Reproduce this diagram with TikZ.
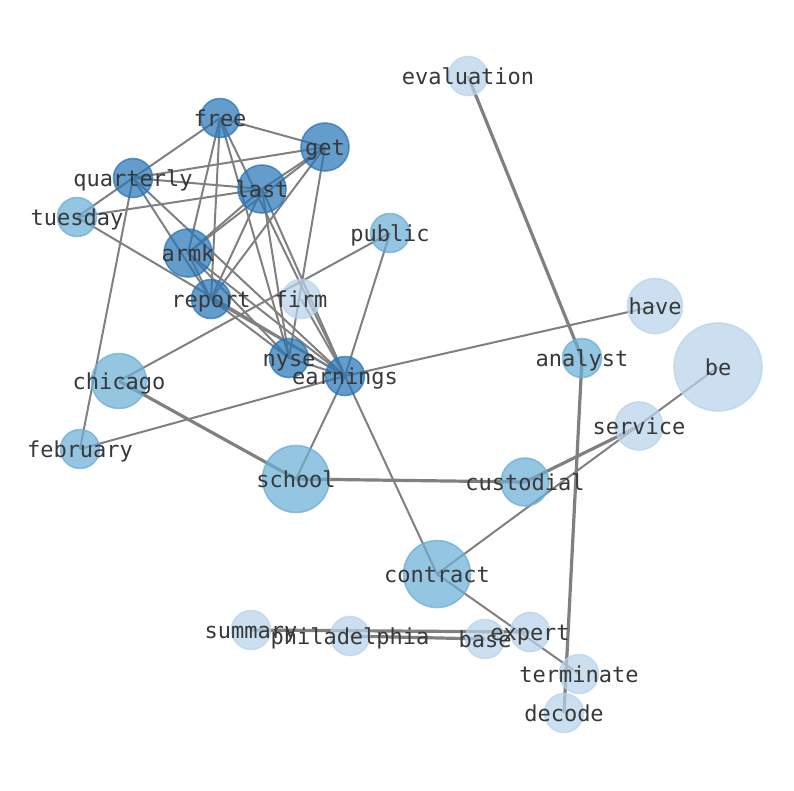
\documentclass[tikz,border=0pt]{standalone}
\usepackage{fontspec}
\setmonofont{DejaVu Sans Mono}
\usetikzlibrary{shapes}
\pgfdeclarelayer{back}
\pgfdeclarelayer{front}
\pgfsetlayers{back,main,front}
\definecolor{deep}{RGB}{40,118,184}
\definecolor{medium}{RGB}{107,174,214}
\definecolor{pale}{RGB}{183,211,235}
\tikzset{
  basic/.style = {circle, inner sep=0pt, line width=1.6pt, fill opacity=0.72, draw opacity=0.72},
  deepnode/.style = {basic, fill=deep, draw=deep},
  midnode/.style = {basic, fill=medium, draw=medium},
  palenode/.style = {basic, fill=pale, draw=pale},
  size 1/.style = {minimum size=39pt},
  size 2/.style = {minimum size=48pt},
  size 3/.style = {minimum size=55pt},
  size 4/.style = {minimum size=67pt},
  size 5/.style = {minimum size=88pt},
  link/.style = {draw=gray, line width=2pt},
  heavy/.style = {draw=gray, line width=3.2pt},
  word/.style = {font=\ttfamily\fontsize{22}{26}\selectfont, text=black!78, inner sep=0pt, text height=16.5pt, text depth=0pt},
}

\begin{document}
\begin{tikzpicture}[x=1pt, y=-1pt]
 \useasboundingbox (0,0) rectangle (794,790);

 % words
 \node[palenode, size 1] (evaluation)   at (468,76)  {};
 \node[deepnode, size 1] (free)         at (220,118) {};
 \node[deepnode, size 2] (get)          at (325,147) {};
 \node[deepnode, size 1] (quarterly)    at (133,178) {};
 \node[deepnode, size 2] (last)         at (262,189) {};
 \node[midnode,  size 1] (tuesday)      at (77,217)  {};
 \node[midnode,  size 1] (public)       at (390,233) {};
 \node[deepnode, size 2] (armk)         at (188,253) {};
 \node[palenode, size 1] (firm)         at (301,299) {};
 \node[deepnode, size 1] (report)       at (211,299) {};
 \node[palenode, size 3] (have)         at (655,306) {};
 \node[midnode,  size 1] (analyst)      at (582,358) {};
 \node[midnode,  size 3] (chicago)      at (119,381) {};
 \node[deepnode, size 1] (nyse)         at (289,358) {};
 \node[deepnode, size 1] (earnings)     at (345,376) {};
 \node[palenode, size 5] (be)           at (718,367) {};
 \node[palenode, size 2] (service)      at (639,426) {};
 \node[midnode,  size 1] (february)     at (80,449)  {};
 \node[midnode,  size 4] (school)       at (296,479) {};
 \node[midnode,  size 2] (custodial)    at (525,482) {};
 \node[midnode,  size 4] (contract)     at (437,574) {};
 \node[palenode, size 1] (summary)      at (251,630) {};
 \node[palenode, size 1] (philadelphia) at (350,636) {};
 \node[palenode, size 1] (base)         at (485,639) {};
 \node[palenode, size 1] (expert)       at (530,632) {};
 \node[palenode, size 1] (terminate)    at (579,674) {};
 \node[palenode, size 1] (decode)       at (564,713) {};

 % links
 \begin{pgfonlayer}{back}
  \foreach \a/\b in {free/get, free/quarterly, free/armk, free/report, free/nyse, free/earnings,
    get/quarterly, get/last, get/armk, get/report, get/nyse,
    quarterly/last, quarterly/tuesday, quarterly/report, quarterly/earnings, quarterly/february,
    tuesday/last, tuesday/earnings,
    last/armk, last/report, last/nyse, last/earnings,
    armk/report, armk/nyse, armk/earnings,
    report/nyse, report/earnings, nyse/earnings, firm/earnings,
    chicago/public, public/earnings, earnings/have, earnings/february,
    earnings/school, earnings/contract, contract/be, contract/terminate}
   \draw[link] (\a.center) -- (\b.center);
  \foreach \a/\b in {evaluation/analyst, analyst/decode, chicago/school, school/custodial,
    custodial/service, summary/expert, philadelphia/base}
   \draw[heavy] (\a.center) -- (\b.center);
 \end{pgfonlayer}

 % labels
 \begin{pgfonlayer}{front}
  \foreach \n in {evaluation, free, get, quarterly, last, tuesday, public, armk, firm, report,
    have, analyst, chicago, nyse, earnings, be, service, february, school, custodial,
    contract, summary, philadelphia, base, expert, terminate, decode}
   \node[word] (\n-text) at (\n) {\n};
 \end{pgfonlayer}

\end{tikzpicture}
\end{document}
